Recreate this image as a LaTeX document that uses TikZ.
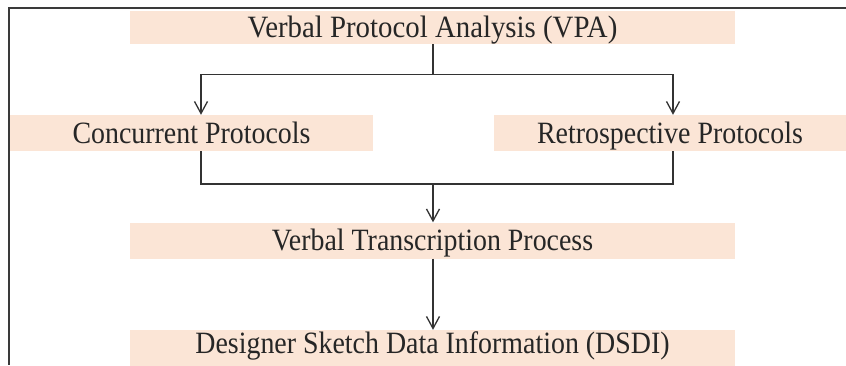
\documentclass[tikz,border=0pt]{standalone}
\usepackage{fontspec}
\setmainfont{Liberation Serif}
\usetikzlibrary{arrows.meta}
\definecolor{peach}{HTML}{FBE5D6}
\definecolor{frame}{HTML}{3A3A3A}
\newcommand{\sqz}[1]{\scalebox{0.9}[1]{#1}}
\tikzset{
  box/.style={fill=peach, draw=none, inner sep=0pt, minimum height=36pt,
    font=\fontsize{31}{34}\selectfont, text=black!85, text height=21.7pt, text depth=1.2pt},
  link/.style={line width=1.5pt, draw=black!80},
  arr/.style={link, -{Straight Barb[length=12pt,width=13pt,line width=1.3pt]}},
  frameline/.style={line width=2pt, draw=frame}
}
\begin{document}
\begin{tikzpicture}[x=1pt,y=1pt]
\useasboundingbox (0,0) rectangle (846,365);
\clip (0,0) rectangle (846,365);
\fill[white] (0,0) rectangle (846,365);
% frame
\coordinate (fTL) at (9,357);
\coordinate (fTR) at (846,357);
\coordinate (fBL) at (9,0);
\draw[frameline] (fTR) -- (fTL) -- (fBL);
% nodes
\node[box, minimum width=605pt, minimum height=33pt] (vpa) at (432.5,337.5) {\scalebox{0.93}[1]{Verbal Protocol Analysis (VPA)}};
\node[box, minimum width=363pt] (conc) at (191.5,232) {\sqz{Concurrent Protocols}};
\node[box, minimum width=352pt] (retro) at (670,232) {\sqz{Retrospective Protocols}};
\node[box, minimum width=605pt] (vtp) at (432.5,124.5) {\sqz{Verbal Transcription Process}};
\node[box, minimum width=605pt, minimum height=44pt, text depth=19.3pt] (dsdi) at (432.5,13) {\sqz{Designer Sketch Data Information (DSDI)}};
% junctions
\coordinate (jTop) at (433,290.5);
\coordinate (jL) at (201,290.5);
\coordinate (jR) at (673,290.5);
\coordinate (jBL) at (201,181);
\coordinate (jBR) at (673,181);
\coordinate (jB) at (433,181);
% connectors
\draw[link] (vpa.south -| jTop) -- (jTop);
\draw[link] (jL) -- (jR);
\draw[arr] (jL) -- (jL |- conc.north);
\draw[arr] (jR) -- (jR |- retro.north);
\draw[link] (conc.south -| jBL) -- (jBL) -- (jBR) -- (retro.south -| jBR);
\draw[arr] (jB) -- (jB |- vtp.north);
\draw[arr] (vtp.south -| jB) -- (jB |- dsdi.north);
\end{tikzpicture}
\end{document}
